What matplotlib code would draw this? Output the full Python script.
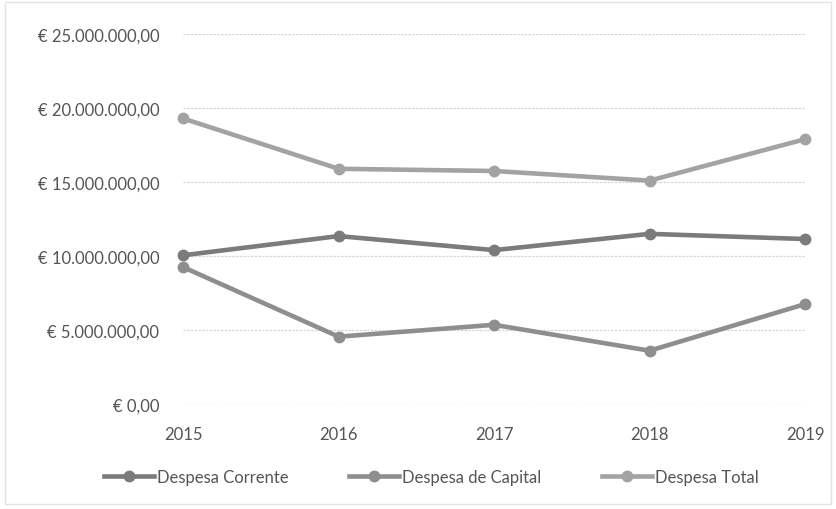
import matplotlib.pyplot as plt
import numpy as np
from matplotlib.ticker import FuncFormatter

plt.rcParams['font.family'] = ['Lato', 'DejaVu Sans']

anos = [2015, 2016, 2017, 2018, 2019]
corrente = [10.05e6, 11.35e6, 10.4e6, 11.5e6, 11.15e6]
capital = [9.25e6, 4.55e6, 5.35e6, 3.6e6, 6.75e6]
total = [19.3e6, 15.9e6, 15.75e6, 15.1e6, 17.9e6]
yticks = [0, 5e6, 10e6, 15e6, 20e6, 25e6]


def euro(v, pos):
    s = "{:,.2f}".format(v)  # 25,000,000.00
    s = s.replace(",", "X").replace(".", ",").replace("X", ".")
    return "€ " + s


fig = plt.figure(figsize=(8.36, 5.10), dpi=100)
ax = fig.add_axes([0.219, 0.206, 0.744, 0.725])

ax.plot(anos, corrente, color="#7b7b7b", lw=3.3, marker="o", ms=7.5,
        label="Despesa Corrente", clip_on=False, zorder=4)
ax.plot(anos, capital, color="#8e8e8e", lw=3.3, marker="o", ms=7.5,
        label="Despesa de Capital", clip_on=False, zorder=3)
ax.plot(anos, total, color="#a3a3a3", lw=3.3, marker="o", ms=7.5,
        label="Despesa Total", clip_on=False, zorder=3)

ax.set_xlim(2015, 2019)
ax.set_ylim(0, 25e6)
ax.set_xticks(anos)
ax.set_yticks(yticks)
ax.yaxis.set_major_formatter(FuncFormatter(euro))
ax.grid(axis="y", color="#d6d6d6", lw=0.9, ls=(0, (2, 1)))
ax.set_axisbelow(True)
for s in ax.spines.values():
    s.set_visible(False)
ax.tick_params(length=0, colors="#555555", labelsize=12)
ax.tick_params(axis="y", pad=17)
ax.tick_params(axis="x", pad=16)

ax.legend(loc="center", bbox_to_anchor=(0.516, 0.0625), bbox_transform=fig.transFigure,
          ncol=3, frameon=False, fontsize=12, handlelength=3.0, columnspacing=3.6,
          handletextpad=0.2, labelcolor="#555555")

# leve moldura do grafico
fig.patches.append(plt.Rectangle((0.006, 0.01), 0.988, 0.985, transform=fig.transFigure,
                                 fill=False, ec="#e3e3e3", lw=1))

fig.savefig("out.png", dpi=100)
